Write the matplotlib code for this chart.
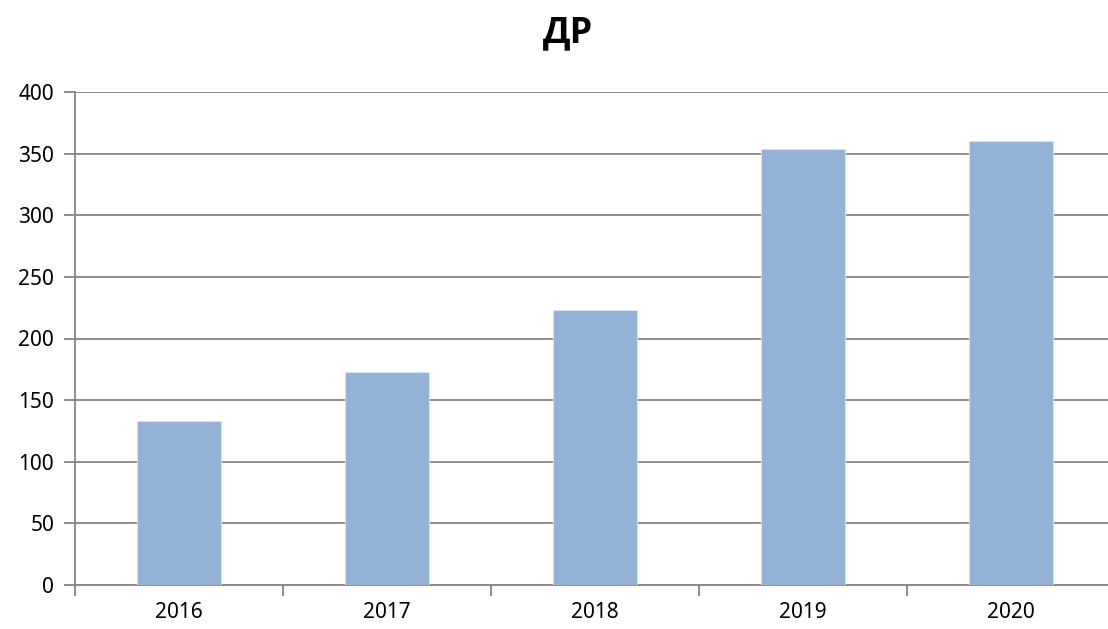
import matplotlib
matplotlib.use("Agg")
import matplotlib.pyplot as plt
import numpy as np

plt.rcParams['font.family'] = ['Noto Sans', 'DejaVu Sans']

years = ['2016', '2017', '2018', '2019', '2020']
values = [133, 173, 223, 354, 360]

fig = plt.figure(figsize=(11.08, 6.29), dpi=100)
ax = fig.add_axes([75 / 1108, 1 - 585 / 629, 1040 / 1108, (585 - 92) / 629])

x = np.arange(len(years))
ax.bar(x, values, width=0.4, color='#95B3D7', edgecolor='#dce6f2', linewidth=0.6, zorder=3)

ax.set_xlim(-0.5, len(years) - 0.5)
ax.set_ylim(0, 400)
ax.set_yticks(np.arange(0, 401, 50))
ax.set_xticks(x)
ax.set_xticklabels(years)
ax.set_xticks(np.arange(-0.5, len(years), 1), minor=True)

ax.grid(axis='y', color='#868686', linewidth=1.3, zorder=0)
for s in ['top', 'right']:
    ax.spines[s].set_visible(False)
for s in ['left', 'bottom']:
    ax.spines[s].set_color('#868686')
    ax.spines[s].set_linewidth(1.3)

ax.tick_params(axis='y', length=8, width=1.3, color='#868686', labelsize=15, pad=7)
ax.tick_params(axis='x', which='major', length=0, labelsize=15, pad=12)
ax.tick_params(axis='x', which='minor', length=8, width=1.3, color='#868686')

fig.text(568 / 1108, 1 - 33 / 629, 'ДР', ha='center', va='center',
         fontsize=26, fontweight='bold', family=['Open Sans', 'DejaVu Sans'])

fig.savefig('out.png', dpi=100)
